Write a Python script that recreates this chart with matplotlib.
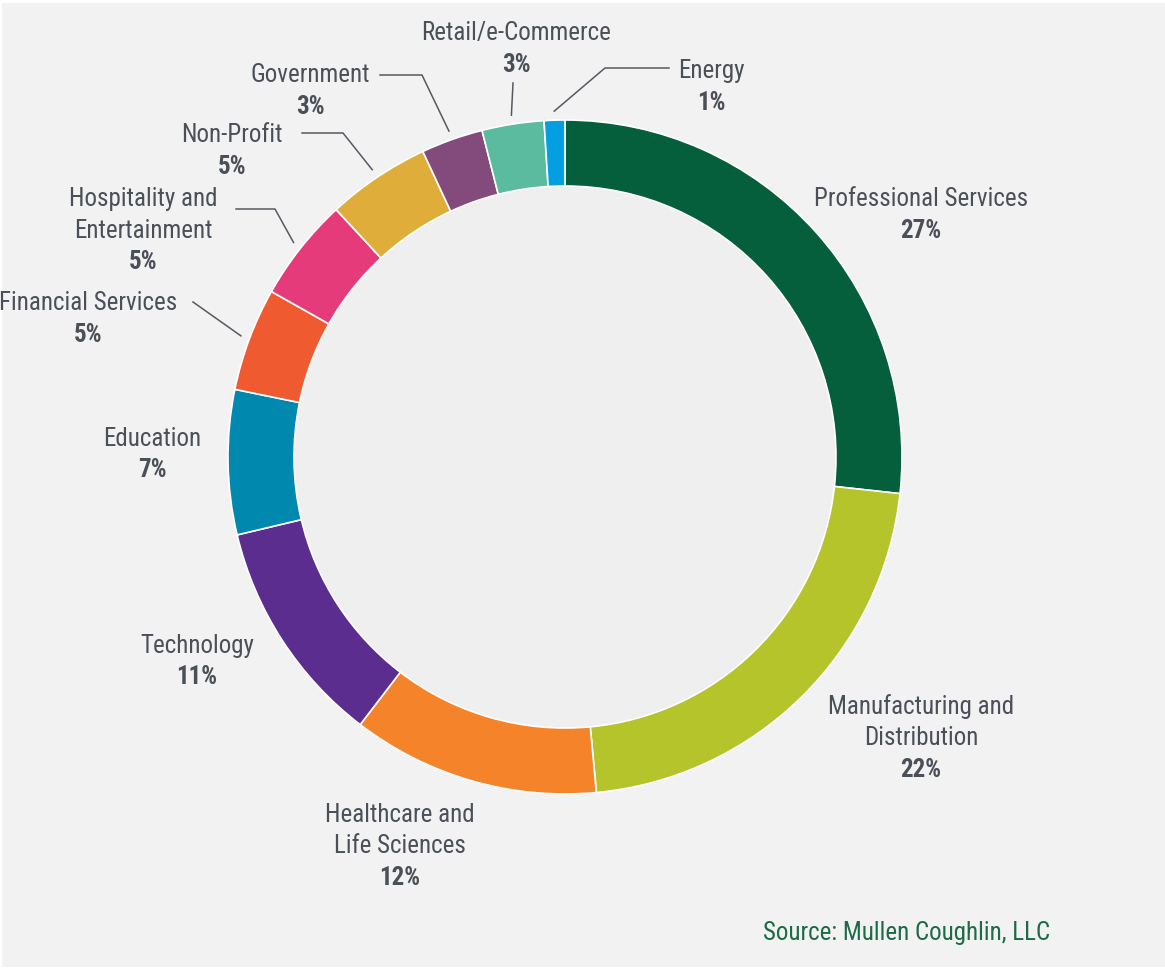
import numpy as np
import matplotlib
matplotlib.use("Agg")
import matplotlib.pyplot as plt
from matplotlib.patches import Rectangle, Circle

# share of clients by industry (percent)
industries = ["Professional Services", "Manufacturing and\nDistribution",
              "Healthcare and\nLife Sciences", "Technology", "Education",
              "Financial Services", "Hospitality and\nEntertainment",
              "Non-Profit", "Government", "Retail/e-Commerce", "Energy"]
shares = [27, 22, 12, 11, 7, 5, 5, 5, 3, 3, 1]
colors = ["#055e3c", "#b5c42a", "#f5832a", "#5b2d8e", "#0088ae", "#ef5a30",
          "#e63b7a", "#dfae3a", "#834a7c", "#5bbb9f", "#049fe0"]

W, H = 1165, 970
CX, CY, R, RING = 565, H - 458, 337, 66

# label block centres (pixels from top-left); None means no leader line
label_pos = [(921, 199), (921, 707), (400, 815), (197, 646), (152, 439),
             (88, 303), (143, 199), (232, 135), (310, 75), (516, 33), (711, 71)]
leader_knee = [None, None, None, None, None,
               [(193, 303)],
               [(236, 210), (275, 210)], [(302, 134), (343, 134)],
               [(380, 76), (422, 76)], [(513, 84)], [(669, 69), (605, 69)]]

plt.rcParams["font.family"] = ["Roboto Condensed", "Roboto", "DejaVu Sans"]

fig = plt.figure(figsize=(W / 100, H / 100), dpi=100, facecolor="white")
ax = fig.add_axes([0, 0, 1, 1])

ax.add_patch(Rectangle((2, 2), W, H - 6, facecolor="#f2f2f2", edgecolor="none", zorder=0))
ax.add_patch(Circle((CX, CY), R - RING, facecolor="#efefef", edgecolor="none", zorder=1))

wedges, _ = ax.pie(shares, colors=colors, startangle=90, counterclock=False,
                   radius=R, center=(CX, CY), frame=True,
                   wedgeprops=dict(width=RING, edgecolor="white", linewidth=1.2))
ax.set_xlim(0, W)
ax.set_ylim(0, H)
ax.set_aspect("equal")
ax.axis("off")

txt = "#4a4f58"
line_h = 31.5
fs = 18
for name, val, (lx, ly), knee, w in zip(industries, shares, label_pos, leader_knee, wedges):
    lines = name.split("\n")
    for i, ln in enumerate(lines):
        ax.text(lx, H - (ly + i * line_h), ln, ha="center", va="center",
                fontsize=fs, color=txt, zorder=5)
    ax.text(lx, H - (ly + len(lines) * line_h), f"{val}%", ha="center", va="center",
            fontsize=fs, fontweight="bold", color=txt, zorder=5)
    if knee is not None:
        # leader runs from the label to just outside the rim at the wedge's mid-angle
        mid = np.deg2rad((w.theta1 + w.theta2) / 2)
        ex = CX + (R + 9) * np.cos(mid)
        ey = CY + (R + 9) * np.sin(mid)
        xs = [p[0] for p in knee] + [ex]
        ys = [H - p[1] for p in knee] + [ey]
        ax.plot(xs, ys, color="#555a60", lw=1.1, zorder=4)

ax.text(1050, H - 933, "Source: Mullen Coughlin, LLC", ha="right", va="center",
        fontsize=fs, color="#1d6a47")

fig.savefig("out.png", dpi=100, facecolor="white")
